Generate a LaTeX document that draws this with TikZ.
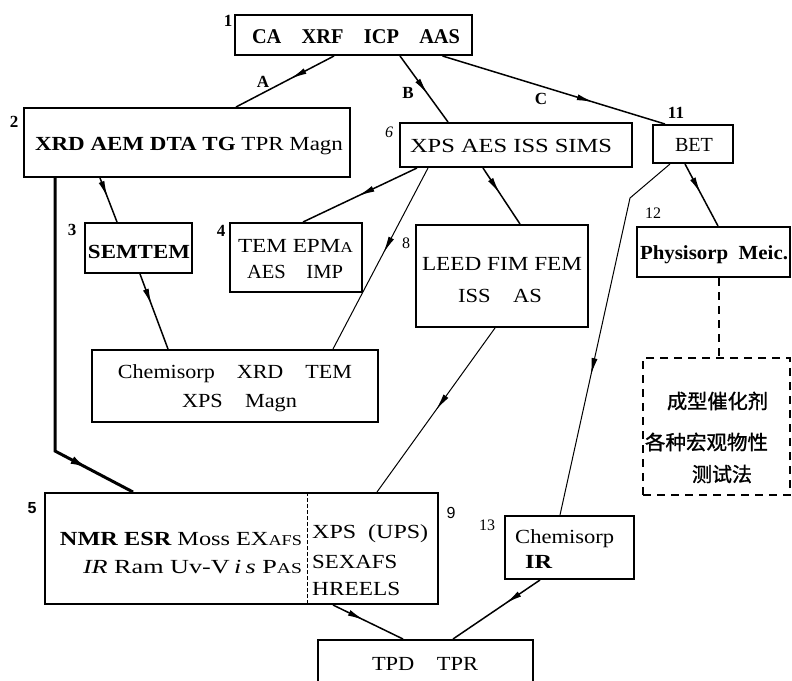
\documentclass[tikz,border=0pt]{standalone}
\usepackage{fontspec}
\setmainfont{Liberation Serif}
\setsansfont{Liberation Sans}
\newfontfamily\cjk{Noto Sans CJK SC}[FakeBold=1.2]
\usetikzlibrary{arrows.meta,decorations.markings,calc}
\newcommand\fitw[2]{\resizebox{#1pt}{\height}{#2}}
\newcommand\fsmain{\fontsize{20}{24}\selectfont}
\newcommand\fssc{\fontsize{15}{18}\selectfont}
\begin{document}
\begin{tikzpicture}[x=1pt,y=-1pt,font=\fsmain,
  box/.style={draw,line width=2pt,inner sep=0pt},
  dbox/.style={draw,line width=1.8pt,inner sep=0pt,dash pattern=on 8pt off 6pt},
  txt/.style={inner sep=0pt,anchor=base},
  txtw/.style={inner sep=0pt,anchor=base west},
  lbl/.style={inner sep=0pt,font=\fontsize{16}{18}\selectfont},
  blbl/.style={inner sep=0pt,font=\fontsize{17}{18}\selectfont\bfseries},
  slbl/.style={inner sep=0pt,font=\fontsize{16}{18}\selectfont\sffamily\bfseries},
  conn/.style={line width=1.5pt},
  thinconn/.style={line width=1pt},
  thickconn/.style={line width=3pt},
  midarrow/.style={postaction={decorate},decoration={markings,mark=at position #1 with {\arrow{Latex[length=17pt,width=6pt]}}}},
  bigmidarrow/.style={postaction={decorate},decoration={markings,mark=at position #1 with {\arrow{Latex[length=18pt,width=8pt]}}}}
]
\useasboundingbox (0,0) rectangle (792,680);

% boxes
\node[box,minimum width=237pt,minimum height=40pt] (n1) at (353.5,35) {};
\node[box,minimum width=326pt,minimum height=69pt] (n2) at (187,142.5) {};
\node[box,minimum width=232pt,minimum height=44pt] (n6) at (516,145) {};
\node[box,minimum width=80pt,minimum height=38pt] (n11) at (693,144) {};
\node[box,minimum width=107pt,minimum height=50pt] (n3) at (138.5,248) {};
\node[box,minimum width=132pt,minimum height=69pt] (n4) at (296,257.5) {};
\node[box,minimum width=172pt,minimum height=102pt] (n8) at (502,276) {};
\node[box,minimum width=153pt,minimum height=50pt] (n12) at (713.5,252) {};
\node[dbox,minimum width=147pt,minimum height=137pt] (nd) at (716.5,426.5) {};
\node[box,minimum width=286pt,minimum height=72pt] (nc) at (235,386) {};
\node[box,minimum width=393pt,minimum height=111pt] (n5) at (241.5,548.5) {};
\node[box,minimum width=129pt,minimum height=63pt] (n13) at (569.5,547.5) {};
\node[box,minimum width=215pt,minimum height=50pt] (nt) at (425.5,665) {};

% divider in box 5/9
\draw[line width=0.9pt,dash pattern=on 4pt off 2pt] ($(n5.north)+(65.5,0)$) -- ($(n5.south)+(65.5,0)$);

% texts
\node[txt] (t1) at (356,43) {\fontsize{21}{24}\selectfont\fitw{208}{\bfseries CA\quad XRF\quad ICP\quad AAS}};
\node[txt] (t2) at (189,150) {\fitw{308}{\bfseries XRD AEM DTA TG \mdseries TPR Magn}};
\node[txt] (t6) at (511,152) {\fitw{202}{XPS AES ISS SIMS}};
\node[txt] (t11) at (694,151) {\fitw{38}{BET}};
\node[txt] (t3) at (139,258) {\fitw{102}{\bfseries SEMTEM}};
\node[txt] (t4a) at (295.5,252) {\fitw{115}{TEM EPM{\fssc A}}};
\node[txt] (t4b) at (295,278) {\fitw{96}{AES\quad IMP}};
\node[txt] (tc1) at (235,378) {\fitw{234}{Chemisorp\quad XRD\quad TEM}};
\node[txt] (tc2) at (239.5,407) {\fitw{115}{XPS\quad Magn}};
\node[txt] (t8a) at (502,270) {\fitw{160}{LEED FIM FEM}};
\node[txt] (t8b) at (500,302) {\fitw{84}{ISS\quad AS}};
\node[txt] (t12) at (714,259) {\fitw{148}{\bfseries Physisorp\enspace Meic.}};
\node[inner sep=0pt] (z1) at (717.5,401) {\cjk\fontsize{20}{22}\selectfont\fitw{101}{成型催化剂}};
\node[inner sep=0pt] (z2) at (706.5,442) {\cjk\fontsize{20}{22}\selectfont\fitw{123}{各种宏观物性}};
\node[inner sep=0pt] (z3) at (722,474) {\cjk\fontsize{20}{22}\selectfont\fitw{60}{测试法}};
\node[txt] (t5a) at (181,545) {\fitw{242}{\bfseries NMR ESR \mdseries Moss EX{\fssc AFS}}};
\node[txt] (t5b) at (192.5,573) {\fitw{219}{\textit{IR} Ram Uv-V\,\textit{i\,s} P{\fssc AS}}};
\node[txtw] (t9a) at (312,538) {\fitw{116}{XPS\enspace(UPS)}};
\node[txtw] (t9b) at (312,568) {\fitw{85}{SEXAFS}};
\node[txtw] (t9c) at (312,595) {\fitw{88}{HREELS}};
\node[txtw] (t13a) at (515,543) {\fitw{99}{Chemisorp}};
\node[txtw] (t13b) at (525,568) {\fitw{27}{\bfseries IR}};
\node[txt] (tt) at (425,670) {\fitw{106}{TPD\quad TPR}};

% labels
\node[blbl] (l1) at (228,21) {1};
\node[blbl] (l2) at (14,122) {2};
\node[lbl] (l6) at (389,132) {\textit{6}};
\node[blbl] (l11) at (676,113) {11};
\node[blbl] (l3) at (72,230) {3};
\node[blbl] (l4) at (221,231) {4};
\node[lbl] (l8) at (406,243) {8};
\node[lbl] (l12) at (653,213) {12};
\node[slbl] (l5) at (32,508) {5};
\node[lbl,font=\fontsize{16}{18}\selectfont\sffamily] (l9) at (451,513) {9};
\node[lbl] (l13) at (487,525) {13};
\node[blbl] (lA) at (263,82) {A};
\node[blbl] (lB) at (408,93) {B};
\node[blbl] (lC) at (541,99) {C};

% connectors
\coordinate (k25) at (55,451);
\coordinate (k1113) at (630,198);
\draw[conn,midarrow=0.45] ($(n1.south)+(-19.5,0)$) -- ($(n2.north)+(49,0)$);
\draw[conn,midarrow=0.58] ($(n1.south)+(46.5,0)$) -- ($(n6.north)+(-68,0)$);
\draw[conn,midarrow=0.68] ($(n1.south)+(89,0)$) -- ($(n11.north)+(-28,0)$);
\draw[conn,midarrow=0.45] ($(n2.south)+(-87,0)$) -- ($(n3.north)+(-21.5,0)$);
\draw[thickconn,bigmidarrow=0.86] ($(n2.south)+(-132,0)$) -- (k25) -- ($(n5.north)+(-108.5,0)$);
\draw[conn,midarrow=0.42] ($(n3.south)+(1.5,0)$) -- ($(nc.north)+(-67,0)$);
\draw[conn,midarrow=0.52] ($(n6.south)+(-99,0)$) -- ($(n4.north)+(7,0)$);
\draw[thinconn,midarrow=0.47] ($(n6.south)+(-88,0)$) -- ($(nc.north)+(98,0)$);
\draw[conn,midarrow=0.46] ($(n6.south)+(-33,0)$) -- ($(n8.north)+(18,0)$);
\draw[thinconn,midarrow=0.62] ($(n11.south)+(-23,0)$) -- (k1113) -- ($(n13.north)+(-9.5,0)$);
\draw[conn,midarrow=0.48] ($(n11.south)+(-8,0)$) -- ($(n12.north)+(4.5,0)$);
\draw[line width=1.8pt,dash pattern=on 8pt off 6pt] ($(n12.south)+(5.5,0)$) -- ($(nd.north)+(2.5,0)$);
\draw[thinconn,midarrow=0.5] ($(n8.south)+(-7,0)$) -- ($(n5.north)+(135.5,0)$);
\draw[conn,midarrow=0.45] ($(n5.south)+(91.5,0)$) -- ($(nt.north)+(-22.5,0)$);
\draw[conn,midarrow=0.4] ($(n13.south)+(-29.5,0)$) -- ($(nt.north)+(27.5,0)$);
\end{tikzpicture}
\end{document}
